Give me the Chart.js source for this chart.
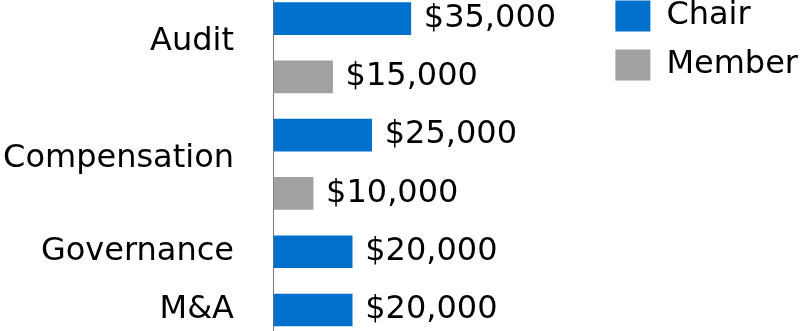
<!DOCTYPE html>
<html>
<head>
<meta charset="utf-8">
<script src="https://cdn.jsdelivr.net/npm/chart.js@4/dist/chart.umd.min.js"></script>
<style>
  html, body { margin: 0; padding: 0; background: #ffffff; }
  #wrap { width: 803px; height: 331px; }
</style>
</head>
<body>
<div id="wrap"><canvas id="c" width="803" height="331"></canvas></div>
<script>
// ---- data ----
const committees = ["Audit", "Compensation", "Governance", "M&A"];
const chairFees  = [35000, 25000, 20000, 20000];
const memberFees = [15000, 10000, null, null];
const seriesNames = ["Chair", "Member"];

// ---- build one row per bar (groups keep their committee) ----
const rowLabels = [], rowGroup = [], chairRows = [], memberRows = [];
committees.forEach((name, i) => {
  rowLabels.push(name + " " + seriesNames[0]); rowGroup.push(i);
  chairRows.push(chairFees[i]); memberRows.push(null);
  if (memberFees[i] !== null) {
    rowLabels.push(name + " " + seriesNames[1]); rowGroup.push(i);
    chairRows.push(null); memberRows.push(memberFees[i]);
  }
});

const FONT = "DejaVu Sans";
const fmt = v => "$" + v.toLocaleString("en-US");

const extras = {
  id: "extras",
  beforeDatasetsDraw(chart) {
    const ctx = chart.ctx, xs = chart.scales.x;
    const x = Math.round(xs.getPixelForValue(0)) - 0.5;
    ctx.save();
    ctx.strokeStyle = "#7a7a7a";
    ctx.lineWidth = 1;
    ctx.beginPath(); ctx.moveTo(x, 0); ctx.lineTo(x, chart.height); ctx.stroke();
    ctx.restore();
  },
  afterDatasetsDraw(chart) {
    const ctx = chart.ctx, ys = chart.scales.y, xs = chart.scales.x;
    ctx.save();
    ctx.font = "32px '" + FONT + "'";
    ctx.fillStyle = "#000";
    ctx.textBaseline = "middle";
    // value labels
    ctx.textAlign = "left";
    chart.data.datasets.forEach((ds, di) => {
      const meta = chart.getDatasetMeta(di);
      meta.data.forEach((el, j) => {
        const v = ds.data[j];
        if (v === null || v === undefined) return;
        ctx.fillText(fmt(v), el.x + 13, el.y);
      });
    });
    // committee labels centred on their rows
    ctx.textAlign = "right";
    const xl = xs.getPixelForValue(0) - 40;
    committees.forEach((name, i) => {
      const ys_ = [];
      rowGroup.forEach((g, r) => { if (g === i) ys_.push(ys.getPixelForValue(r)); });
      const yc = ys_.reduce((a, b) => a + b, 0) / ys_.length;
      ctx.fillText(name, xl, yc - (ys_.length > 1 ? 6 : 0));
    });
    ctx.restore();
  }
};

new Chart(document.getElementById("c"), {
  type: "bar",
  data: {
    labels: rowLabels,
    datasets: [
      { label: seriesNames[0], data: chairRows, backgroundColor: "#0070CD", barThickness: 32, skipNull: true, clip: false },
      { label: seriesNames[1], data: memberRows, backgroundColor: "#A1A1A1", barThickness: 32, skipNull: true, clip: false }
    ]
  },
  options: {
    indexAxis: "y",
    responsive: false,
    devicePixelRatio: 1,
    animation: false,
    layout: { padding: { left: 274, top: -17, right: -5, bottom: 21 } },
    scales: {
      x: {
        type: "linear", position: "top", min: 0, max: 83000,
        ticks: { display: false }, grid: { display: false }, border: { display: false },
        afterFit: s => { s.height = 35.6; }
      },
      y: { type: "category", offset: false, display: false }
    },
    plugins: {
      tooltip: { enabled: false },
      legend: {
        position: "right", align: "start",
        labels: {
          font: { family: FONT, size: 32 }, color: "#000",
          boxWidth: 35, boxHeight: 31, padding: 17
        }
      }
    }
  },
  plugins: [extras]
});
</script>
</body>
</html>
